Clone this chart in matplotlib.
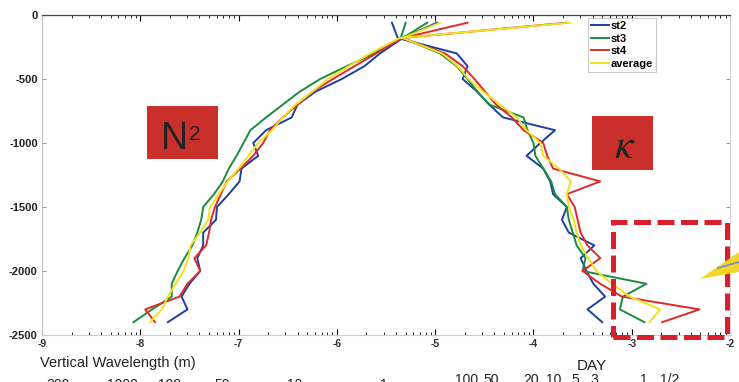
import matplotlib
matplotlib.use("Agg")
import matplotlib.pyplot as plt
import numpy as np
from matplotlib.patches import Rectangle, Polygon
from matplotlib.lines import Line2D
from matplotlib.ticker import FixedLocator

plt.rcParams["font.family"] = ["Liberation Sans", "DejaVu Sans"]
plt.rcParams["axes.unicode_minus"] = False

# depth (m) shared by all profiles
depth = [-60, -180, -300, -400, -500, -600, -700, -800, -900, -1000, -1100, -1200,
         -1300, -1400, -1500, -1600, -1700, -1800, -1900, -2000, -2100, -2200, -2300, -2400]

# log10 N^2 profiles
n2_st2 = [-4.98, -5.33, -5.56, -5.72, -5.95, -6.22, -6.40, -6.46, -6.72, -6.85, -6.80, -6.97,
          -6.99, -7.10, -7.22, -7.23, -7.36, -7.36, -7.42, -7.39, -7.50, -7.58, -7.52, -7.72]
n2_st3 = [-5.30, -5.35, -5.62, -5.90, -6.17, -6.38, -6.55, -6.72, -6.88, -6.95, -7.02, -7.10,
          -7.16, -7.25, -7.36, -7.38, -7.42, -7.47, -7.55, -7.62, -7.68, -7.68, -7.88, -8.07]
n2_st4 = [-3.66, -5.34, -5.60, -5.82, -6.04, -6.25, -6.40, -6.55, -6.68, -6.75, -6.85, -6.98,
          -7.12, -7.18, -7.24, -7.28, -7.30, -7.33, -7.45, -7.39, -7.52, -7.60, -7.95, -7.85]
n2_avg = [-3.63, -5.36, -5.66, -5.88, -6.09, -6.25, -6.42, -6.55, -6.66, -6.80, -6.90, -7.00,
          -7.11, -7.20, -7.29, -7.31, -7.39, -7.49, -7.51, -7.56, -7.64, -7.72, -7.78, -7.90]

# log10 kappa profiles
k_st2 = [-5.44, -5.38, -4.78, -4.67, -4.72, -4.57, -4.45, -4.31, -3.78, -3.93, -4.07, -3.90,
         -3.83, -3.80, -3.66, -3.71, -3.64, -3.38, -3.52, -3.46, -3.39, -3.27, -3.45, -3.30]
k_st3 = [-5.08, -5.33, -4.95, -4.78, -4.67, -4.57, -4.45, -4.10, -4.06, -4.00, -3.98, -3.90,
         -3.82, -3.78, -3.66, -3.64, -3.60, -3.56, -3.47, -3.50, -2.85, -3.09, -3.12, -2.87]
k_st4 = [-4.67, -5.33, -4.90, -4.72, -4.60, -4.49, -4.38, -4.22, -4.10, -3.90, -3.86, -3.80,
         -3.32, -3.66, -3.58, -3.55, -3.52, -3.45, -3.32, -3.50, -3.32, -3.10, -2.31, -2.69]
k_avg = [-4.95, -5.33, -4.93, -4.77, -4.66, -4.51, -4.34, -4.17, -4.07, -3.93, -3.90, -3.74,
         -3.62, -3.66, -3.64, -3.59, -3.56, -3.52, -3.44, -3.36, -3.20, -3.02, -2.71, -2.82]

labels = ["st2", "st3", "st4", "average"]
colors = ["#1f3f9e", "#1b8c3c", "#e02a2a", "#f0e21c"]

# partly visible scale rows under the axis
wl_text = ["200", "1000", "100", "50", "10", "1"]
day_text = ["100", "50", "20", "10", "5", "3", "1", "1/2"]

W, H = 739, 382


def fx(px):
    return px / W


def fy(py):
    return 1 - py / H


fig = plt.figure(figsize=(W / 100, H / 100), dpi=100)
ax = fig.add_axes([fx(42), fy(335), fx(730) - fx(42), fy(15) - fy(335)])

n2_all = [n2_st2, n2_st3, n2_st4, n2_avg]
k_all = [k_st2, k_st3, k_st4, k_avg]
for n2, k, c, lab in zip(n2_all, k_all, colors, labels):
    ax.plot(n2, depth, color=c, lw=1.4, label=lab)
    ax.plot(k, depth, color=c, lw=1.4)

ax.set_xlim(-9, -2)
ax.set_ylim(-2500, 0)
ax.set_xticks(range(-9, -1))
ax.set_yticks(range(-2500, 1, 500))
minor = [n + np.log10(m) for n in range(-9, -2) for m in range(2, 10)]
ax.xaxis.set_minor_locator(FixedLocator(minor))

ax.tick_params(axis="both", which="both", direction="in", top=True, right=True)
ax.tick_params(axis="x", which="major", length=4, width=0.8, labelsize=7.5, pad=3)
ax.tick_params(axis="x", which="minor", length=2.5, width=0.6)
ax.tick_params(axis="y", which="major", length=3, width=0.8, labelsize=8, pad=3, colors="#999999",
               labelcolor="#222222")
for t in ax.get_xticklabels() + ax.get_yticklabels():
    t.set_fontweight("bold")
for t in ax.xaxis.get_major_ticks() + ax.xaxis.get_minor_ticks():
    t.tick1line.set_color("#bbbbbb")
    t.tick2line.set_color("#444444")
for t in ax.get_xticklabels():
    t.set_color("#333333")

ax.spines["top"].set_color("#444444")
ax.spines["top"].set_linewidth(0.9)
ax.spines["bottom"].set_color("#cccccc")
ax.spines["left"].set_color("#c4c4c4")
ax.spines["right"].set_color("#d0d0d0")
for s in ["bottom", "left", "right"]:
    ax.spines[s].set_linewidth(0.8)

leg = ax.legend(loc="upper left", bbox_to_anchor=(fx(588), fy(18)), bbox_transform=fig.transFigure,
                prop={"weight": "bold", "size": 8}, frameon=True, fancybox=False,
                borderpad=0.3, labelspacing=0.22, handlelength=1.6, handletextpad=0.15,
                borderaxespad=0)
leg.get_frame().set_edgecolor("#bbbbbb")
leg.get_frame().set_linewidth(0.7)

# red label boxes
fig.add_artist(Rectangle((fx(147), fy(159)), fx(218) - fx(147), fy(106) - fy(159),
                         transform=fig.transFigure, facecolor="#c9302c", edgecolor="none"))
fig.text(fx(174), fy(139), "N", fontsize=27, color="#222222", ha="center", va="center")
fig.text(fx(195), fy(134.5), "2", fontsize=15, color="#222222", ha="center", va="center")

fig.add_artist(Rectangle((fx(592), fy(170)), fx(653) - fx(592), fy(116) - fy(170),
                         transform=fig.transFigure, facecolor="#c9302c", edgecolor="none"))
fig.text(fx(625), fy(147), r"$\kappa$", fontsize=30, color="#222222", ha="center", va="center",
         math_fontfamily="stix")

# dashed highlight box
fig.add_artist(Rectangle((fx(613), fy(337)), fx(727) - fx(613), fy(222) - fy(337),
                         transform=fig.transFigure, facecolor="none", edgecolor="#d7202c",
                         lw=3.6, linestyle=(0, (3.4, 1.3))))

# yellow pointer at the right edge
fig.add_artist(Polygon([(fx(700), fy(279)), (fx(739), fy(252)), (fx(739), fy(272))],
                       closed=True, transform=fig.transFigure, facecolor="#f2d42a", edgecolor="none"))
fig.add_artist(Line2D([fx(718), fx(739)], [fy(268), fy(262)], transform=fig.transFigure,
                      color="#6f8fc8", lw=1.2))

# bottom annotations
fig.text(fx(40), fy(367), "Vertical Wavelength (m)", fontsize=10.5, color="#222222",
         ha="left", va="baseline")
fig.text(fx(592), fy(370), "DAY", fontsize=11, color="#222222", ha="center", va="baseline")

wl_px = [58, 122, 170, 222, 295, 384]
for s, p in zip(wl_text, wl_px):
    fig.text(fx(p), fy(389), s, fontsize=10, color="#222222", ha="center", va="baseline")

day_px = [467, 491, 531, 554, 575, 594, 644, 670]
for s, p in zip(day_text, day_px):
    fig.text(fx(p), fy(384), s, fontsize=10, color="#222222", ha="center", va="baseline")

fig.savefig("out.png", dpi=100)
